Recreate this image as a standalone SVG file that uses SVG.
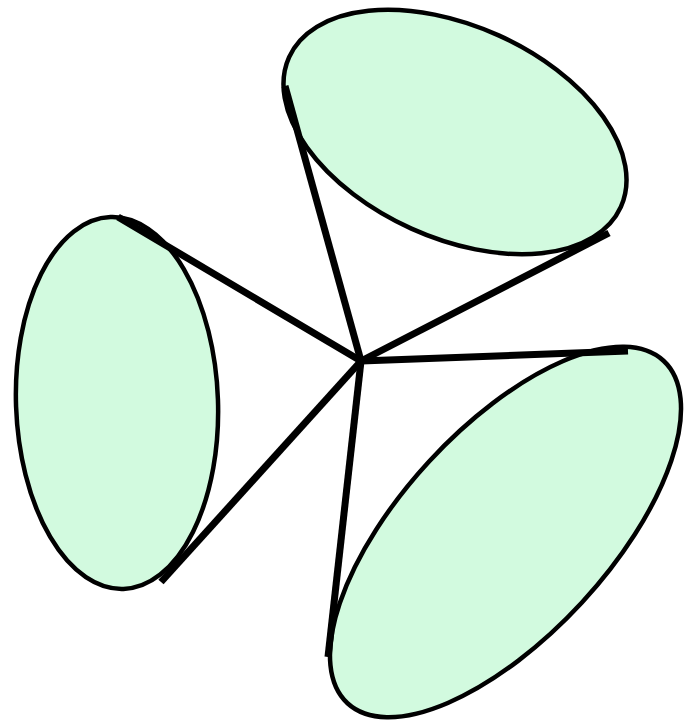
<svg xmlns="http://www.w3.org/2000/svg" width="684" height="720" viewBox="0 0 684 720">
<style>
.node{fill:#d2fadf;stroke:#000;stroke-width:4.5}
.conn line{stroke:#000;stroke-width:7;stroke-linecap:butt}
</style>
<rect width="684" height="720" fill="#fff"/>
<g id="left"><ellipse class="node" cx="117" cy="403" rx="101" ry="186" transform="rotate(-2 117 403)"/></g>
<g id="top"><ellipse class="node" cx="455" cy="132" rx="182" ry="106" transform="rotate(24.3 455 132)"/></g>
<g id="bottomright"><ellipse class="node" cx="505.5" cy="532" rx="233" ry="104" transform="rotate(-47.3 505.5 532)"/></g>
<g id="connectors" class="conn">
<line x1="361" y1="361" x2="118" y2="217"/>
<line x1="361" y1="361" x2="161" y2="582"/>
<line x1="361" y1="361" x2="285" y2="86"/>
<line x1="361" y1="361" x2="609" y2="233"/>
<line x1="361" y1="361" x2="628" y2="351"/>
<line x1="361" y1="361" x2="328" y2="657"/>
</g>
</svg>
